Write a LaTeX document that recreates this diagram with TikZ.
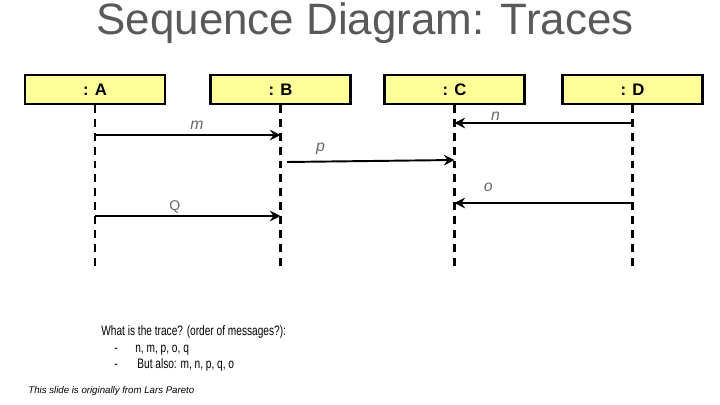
\documentclass[tikz,border=0pt]{standalone}
\usepackage{fontspec}
\setmainfont{Liberation Sans}
\usetikzlibrary{arrows.meta,positioning}
\definecolor{amarillo}{HTML}{FFFF99}
\definecolor{gristitulo}{HTML}{595959}
\definecolor{grisetiq}{HTML}{666666}

\begin{document}
\begin{tikzpicture}[x=0.02cm, y=-0.02cm,
    objeto/.style={draw=black, line width=1.2pt, fill=amarillo,
        minimum width=2.8cm, minimum height=0.58cm, inner sep=0pt,
        font=\bfseries\fontsize{9.5}{11}\selectfont},
    vida/.style={line width=1.7pt, dash pattern=on 4.5pt off 3.4pt},
    mensaje/.style={line width=1.1pt,
        -{Stealth[length=6pt, width=6pt, inset=2pt]}},
    etiqueta/.style={text=grisetiq, font=\itshape\fontsize{9}{10}\selectfont},
    texto/.style={anchor=base west, inner sep=0pt, font=\fontsize{7.8}{9}\selectfont}]
    \useasboundingbox (0,0) rectangle (720,405);

    % Título
    \node[text=gristitulo, font=\fontsize{25}{30}\selectfont] (titulo)
        at (365,23) {Sequence Diagram: Traces};

    % Objetos
    \node[objeto] (A) at (95,89.5) {: A};
    \node[objeto] (B) at (280.5,89.5) {: B};
    \node[objeto] (C) at (454.5,89.5) {: C};
    \node[objeto] (D) at (632.5,89.5) {: D};

    % Líneas de vida
    \foreach \o in {A,B,C,D}
        \draw[vida] (\o.south) -- (\o |- 0,268);

    % Mensajes
    \coordinate (pini) at (287,162);
    \draw[mensaje] (A |- 0,135) -- (B |- 0,135)
        node[etiqueta, pos=0.55, above=-0.7pt] (lm) {m};
    \draw[mensaje] (D |- 0,123) -- (C |- 0,123)
        node[etiqueta, pos=0.77, above=-2.2pt] (ln) {n};
    \draw[mensaje] (pini) -- (C |- 0,160)
        node[etiqueta, pos=0.2, above=0pt] (lp) {p};
    \draw[mensaje] (D |- 0,203) -- (C |- 0,203)
        node[etiqueta, pos=0.81, above=2.3pt] (lo) {o};
    \draw[mensaje] (A |- 0,216) -- (B |- 0,216)
        node[etiqueta, font=\fontsize{8}{9}\selectfont, pos=0.43, above=-2pt] (lq) {Q};

    % Pregunta y respuestas
    \node[texto] (pregunta) at (101,335)
        {\scalebox{0.74}[1]{What is the trace? (order of messages?):}};
    \node[texto] (guion1) at (114,352) {\scalebox{0.74}[1]{-}};
    \node[texto] (resp1) at (135,352) {\scalebox{0.74}[1]{n, m, p, o, q}};
    \node[texto] (guion2) at (114,368) {\scalebox{0.74}[1]{-}};
    \node[texto] (resp2) at (137,368) {\scalebox{0.74}[1]{But also: m, n, p, q, o}};

    % Nota al pie
    \node[texto, font=\itshape\fontsize{5.5}{6}\selectfont] (nota)
        at (28,393) {This slide is originally from Lars Pareto};
\end{tikzpicture}
\end{document}
